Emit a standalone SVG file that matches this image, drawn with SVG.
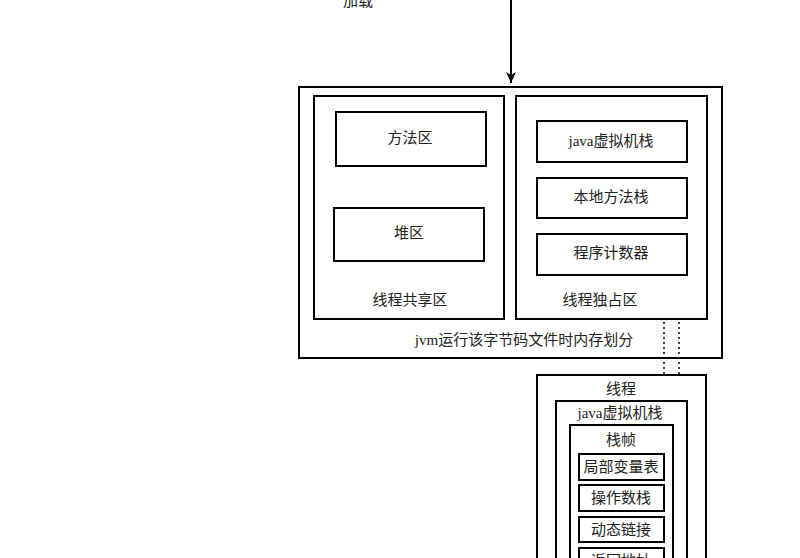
<svg xmlns="http://www.w3.org/2000/svg" width="800" height="558" viewBox="0 0 800 558">
<defs>
<style>
.b{fill:#fff;stroke:#000;stroke-width:2}
.t{font-family:"Liberation Serif","Noto Sans CJK SC",serif;font-size:15px;fill:#222;text-anchor:middle;dominant-baseline:central}
.c{fill:none;stroke:#000;stroke-width:2}
.d{fill:none;stroke:#000;stroke-width:1.5;stroke-dasharray:2 3}
</style>
<marker id="ah2" viewBox="0 0 12 12" refX="11" refY="6" markerWidth="12" markerHeight="12" markerUnits="userSpaceOnUse" orient="auto">
<path d="M0,1 L11,6 L0,11 L3,6 Z" fill="#000"/>
</marker>
</defs>
<rect width="800" height="558" fill="#fff"/>
<g id="jvm-memory">
<rect class="b" x="299" y="87" width="423" height="271"/>
<text class="t" x="524" y="340">jvm运行该字节码文件时内存划分</text>
</g>
<g id="shared">
<rect class="b" x="314" y="96" width="190" height="223"/>
<text class="t" x="410" y="300">线程共享区</text>
</g>
<g id="method-area">
<rect class="b" x="336" y="112" width="150" height="54"/>
<text class="t" x="410" y="138">方法区</text>
</g>
<g id="heap">
<rect class="b" x="334" y="208" width="150" height="53"/>
<text class="t" x="409" y="233">堆区</text>
</g>
<g id="exclusive">
<rect class="b" x="516" y="96" width="191" height="223"/>
<text class="t" x="600" y="300">线程独占区</text>
</g>
<g id="jvm-stack">
<rect class="b" x="537" y="121" width="150" height="41"/>
<text class="t" x="611" y="141">java虚拟机栈</text>
</g>
<g id="native-stack">
<rect class="b" x="537" y="178" width="150" height="40"/>
<text class="t" x="611" y="197">本地方法栈</text>
</g>
<g id="pc">
<rect class="b" x="537" y="234" width="150" height="41"/>
<text class="t" x="611" y="253">程序计数器</text>
</g>
<g id="thread">
<rect class="b" x="537" y="375" width="169" height="200"/>
<text class="t" x="621" y="389">线程</text>
</g>
<g id="thread-jvm-stack">
<rect class="b" x="556" y="401" width="131" height="180"/>
<text class="t" x="620" y="413">java虚拟机栈</text>
</g>
<g id="frame">
<rect class="b" x="570" y="425" width="103" height="160"/>
<text class="t" x="621" y="440">栈帧</text>
</g>
<g id="locals">
<rect class="b" x="579" y="454" width="85" height="26"/>
<text class="t" x="621" y="467">局部变量表</text>
</g>
<g id="operand-stack">
<rect class="b" x="579" y="485" width="85" height="26"/>
<text class="t" x="621" y="498">操作数栈</text>
</g>
<g id="dynamic-link">
<rect class="b" x="579" y="517" width="85" height="25"/>
<text class="t" x="621" y="530">动态链接</text>
</g>
<g id="return-address">
<rect class="b" x="579" y="548" width="85" height="26"/>
<text class="t" x="621" y="561">返回地址</text>
</g>
<g id="connectors">
<line class="c" x1="511" y1="0" x2="511" y2="83" marker-end="url(#ah2)"/>
<text class="t" x="358" y="1">加载</text>
<line class="d" x1="664" y1="322" x2="664" y2="374"/>
<line class="d" x1="679" y1="322" x2="679" y2="374"/>
</g>
</svg>
